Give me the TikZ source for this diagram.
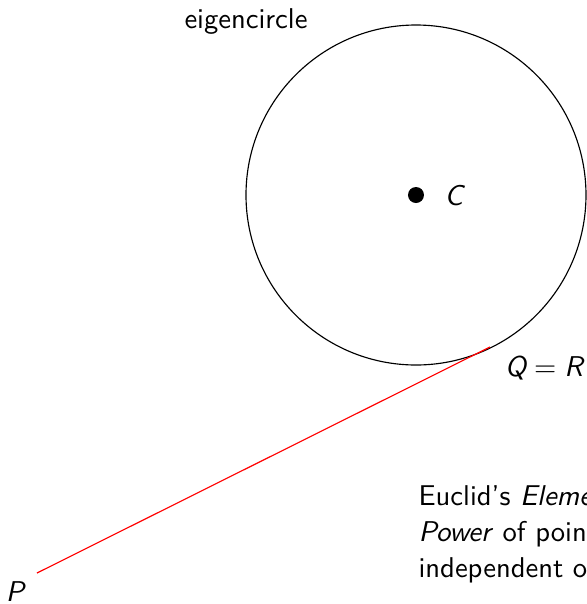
\documentclass[tikz,border=0pt]{standalone}
\renewcommand{\familydefault}{\sfdefault}
\begin{document}
\begin{tikzpicture}[x=0.3494pt,y=-0.3494pt,
  lbl/.style={inner sep=0pt, font=\normalsize}]
\useasboundingbox (0,0) rectangle (587,604);
\coordinate (C) at (416,195);
\coordinate (Q) at (490,347);
\coordinate (Pe) at (37,573);
\draw (C) circle[radius=170];
\fill (C) circle[radius=8];
\draw[red] (Pe) -- (Q);
\node[lbl] (lc) at (455,196) {\textit{C}};
\node[lbl] (lq) at (544,368) {$\textit{Q}=\textit{R}$};
\node[lbl] (lp) at (16,592) {\textit{P}};
\node[lbl] (le) at (246,22) {eigencircle};
\node[lbl, anchor=base west, align=left, font=\fontsize{10}{12.5}\selectfont] (txt) at (418,577)
  {Euclid's \textit{Elements} III.36:\\ \textit{Power} of point \textit{P} is\\ independent of the secant};
\end{tikzpicture}
\end{document}
